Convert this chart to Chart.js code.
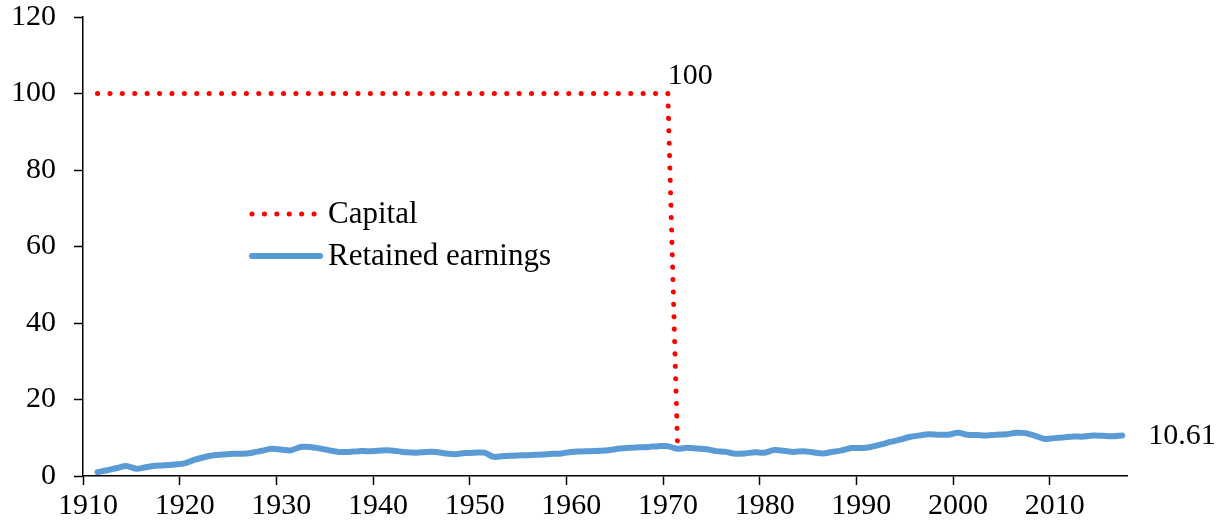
<!DOCTYPE html>
<html>
<head>
<meta charset="utf-8">
<script src="https://cdn.jsdelivr.net/npm/chart.js@4.4.1/dist/chart.umd.min.js"></script>
<style>
  html, body { margin: 0; padding: 0; background: #fff; }
  #wrap { width: 1225px; height: 529px; }
</style>
</head>
<body>
<div id="wrap"><canvas id="myChart" width="1225" height="529"></canvas></div>
<script>
// years shown on the chart (1911 - 2017)
const years = [
  1911, 1912, 1913, 1914, 1915, 1916, 1917, 1918, 1919, 1920,
  1921, 1922, 1923, 1924, 1925, 1926, 1927, 1928, 1929, 1930,
  1931, 1932, 1933, 1934, 1935, 1936, 1937, 1938, 1939, 1940,
  1941, 1942, 1943, 1944, 1945, 1946, 1947, 1948, 1949, 1950,
  1951, 1952, 1953, 1954, 1955, 1956, 1957, 1958, 1959, 1960,
  1961, 1962, 1963, 1964, 1965, 1966, 1967, 1968, 1969, 1970,
  1971, 1972, 1973, 1974, 1975, 1976, 1977, 1978, 1979, 1980,
  1981, 1982, 1983, 1984, 1985, 1986, 1987, 1988, 1989, 1990,
  1991, 1992, 1993, 1994, 1995, 1996, 1997, 1998, 1999, 2000,
  2001, 2002, 2003, 2004, 2005, 2006, 2007, 2008, 2009, 2010,
  2011, 2012, 2013, 2014, 2015, 2016, 2017
];

// Capital: 1911 - 1971
const capital = [
  100, 100, 100, 100, 100, 100, 100, 100, 100, 100,
  100, 100, 100, 100, 100, 100, 100, 100, 100, 100,
  100, 100, 100, 100, 100, 100, 100, 100, 100, 100,
  100, 100, 100, 100, 100, 100, 100, 100, 100, 100,
  100, 100, 100, 100, 100, 100, 100, 100, 100, 100,
  100, 100, 100, 100, 100, 100, 100, 100, 100, 100,
  8
];

// Retained earnings: 1911 - 2017
const retained = [
  1.0, 1.5, 2.1, 2.6, 1.9, 2.3, 2.7, 2.8, 3.0, 3.3,
  4.2, 4.9, 5.4, 5.6, 5.8, 5.8, 6.1, 6.6, 7.1, 6.9,
  6.7, 7.6, 7.6, 7.2, 6.7, 6.3, 6.3, 6.5, 6.5, 6.6,
  6.7, 6.5, 6.2, 6.1, 6.3, 6.3, 5.9, 5.7, 6.0, 6.1,
  6.1, 5.0, 5.2, 5.3, 5.4, 5.5, 5.6, 5.8, 5.9, 6.3,
  6.4, 6.5, 6.6, 6.8, 7.2, 7.4, 7.5, 7.6, 7.8, 7.8,
  7.1, 7.4, 7.2, 7.0, 6.5, 6.3, 5.8, 5.9, 6.2, 6.1,
  6.8, 6.6, 6.3, 6.5, 6.2, 5.9, 6.3, 6.7, 7.3, 7.3,
  7.6, 8.2, 8.9, 9.5, 10.2, 10.6, 10.9, 10.8, 10.8, 11.3,
  10.8, 10.7, 10.6, 10.8, 10.9, 11.3, 11.2, 10.5, 9.7, 9.9,
  10.1, 10.3, 10.3, 10.6, 10.5, 10.4, 10.61
];

const xTicks = [1910, 1920, 1930, 1940, 1950, 1960, 1970, 1980, 1990, 2000, 2010];
const yTicks = [0, 20, 40, 60, 80, 100, 120];

const FONT = "'Liberation Serif', 'Times New Roman', serif";
const FONT_SIZE = 30;
const RED = "#FF0000";
const BLUE = "#5B9BD5";

Chart.defaults.font.family = FONT;
Chart.defaults.font.size = FONT_SIZE;
Chart.defaults.color = "#000";

// each year sits in the middle of its slot on the axis
const toPoints = vals => vals.map((v, i) => ({ x: years[i] + 0.5, y: v }));

// end-of-line value labels and the legend inside the plot
const extras = {
  id: "extras",
  afterDatasetsDraw(chart) {
    const c = chart.ctx;
    const xs = chart.scales.x;
    const ys = chart.scales.y;
    c.save();
    c.font = FONT_SIZE + "px " + FONT;
    c.fillStyle = "#000";

    // "100" above the last year of the capital plateau
    const iCap = capital.lastIndexOf(100);
    c.textBaseline = "alphabetic";
    c.textAlign = "left";
    c.fillText(String(capital[iCap]), xs.getPixelForValue(years[iCap] + 0.5), ys.getPixelForValue(capital[iCap]) - 10);

    // last retained earnings value
    const iRe = retained.length - 1;
    c.textBaseline = "middle";
    c.fillText(retained[iRe].toFixed(2), xs.getPixelForValue(years[iRe] + 0.5) + 26, ys.getPixelForValue(retained[iRe]) + 1);

    // legend
    c.font = "31px " + FONT;
    chart.data.datasets.forEach((ds, k) => {
      const y = 214 + k * 42;
      c.beginPath();
      c.strokeStyle = ds.borderColor;
      c.lineWidth = ds.borderWidth;
      c.lineCap = "round";
      c.setLineDash(ds.borderDash || []);
      c.moveTo(252, y);
      c.lineTo(ds.borderDash ? 318 : 320, y);
      c.stroke();
      c.setLineDash([]);
      c.fillText(ds.label, 328, y + 1);
    });
    c.restore();
  }
};

const ctx = document.getElementById("myChart").getContext("2d");

const tickFont = { family: FONT, size: FONT_SIZE, lineHeight: 1.1 };

const chart = new Chart(ctx, {
  type: "line",
  data: {
    datasets: [
      {
        label: "Capital",
        data: toPoints(capital),
        borderColor: RED,
        borderWidth: 5,
        borderDash: [0.1, 12.3],
        borderCapStyle: "round",
        pointRadius: 0,
        fill: false,
        tension: 0
      },
      {
        label: "Retained earnings",
        data: toPoints(retained),
        borderColor: BLUE,
        borderWidth: 6,
        borderCapStyle: "round",
        borderJoinStyle: "round",
        pointRadius: 0,
        fill: false,
        tension: 0.3
      }
    ]
  },
  options: {
    responsive: false,
    animation: false,
    events: [],
    layout: { padding: { left: 0, right: 98, top: 17, bottom: 0 } },
    plugins: {
      legend: { display: false },
      tooltip: { enabled: false }
    },
    scales: {
      x: {
        type: "linear",
        min: 1910,
        max: 2018,
        afterFit: s => { s.height = 53; s.paddingLeft = 0; s.paddingRight = 0; },
        afterBuildTicks: s => { s.ticks = xTicks.map(v => ({ value: v })); },
        ticks: {
          font: tickFont,
          padding: 5,
          labelOffset: 5,
          callback: v => String(v),
          maxRotation: 0
        },
        grid: {
          drawOnChartArea: false,
          drawTicks: true,
          tickLength: 9,
          tickWidth: 1.5,
          color: "#000"
        },
        border: { color: "#000", width: 1.5 }
      },
      y: {
        min: 0,
        max: 120,
        afterFit: s => { s.width = 83; s.paddingTop = 0; s.paddingBottom = 0; },
        afterBuildTicks: s => { s.ticks = yTicks.map(v => ({ value: v })); },
        ticks: {
          font: tickFont,
          padding: 18,
          callback: v => String(v)
        },
        grid: {
          drawOnChartArea: false,
          drawTicks: true,
          tickLength: 9,
          tickWidth: 1.5,
          color: "#000"
        },
        border: { color: "#000", width: 1.5 }
      }
    }
  },
  plugins: [extras]
});
</script>
</body>
</html>
